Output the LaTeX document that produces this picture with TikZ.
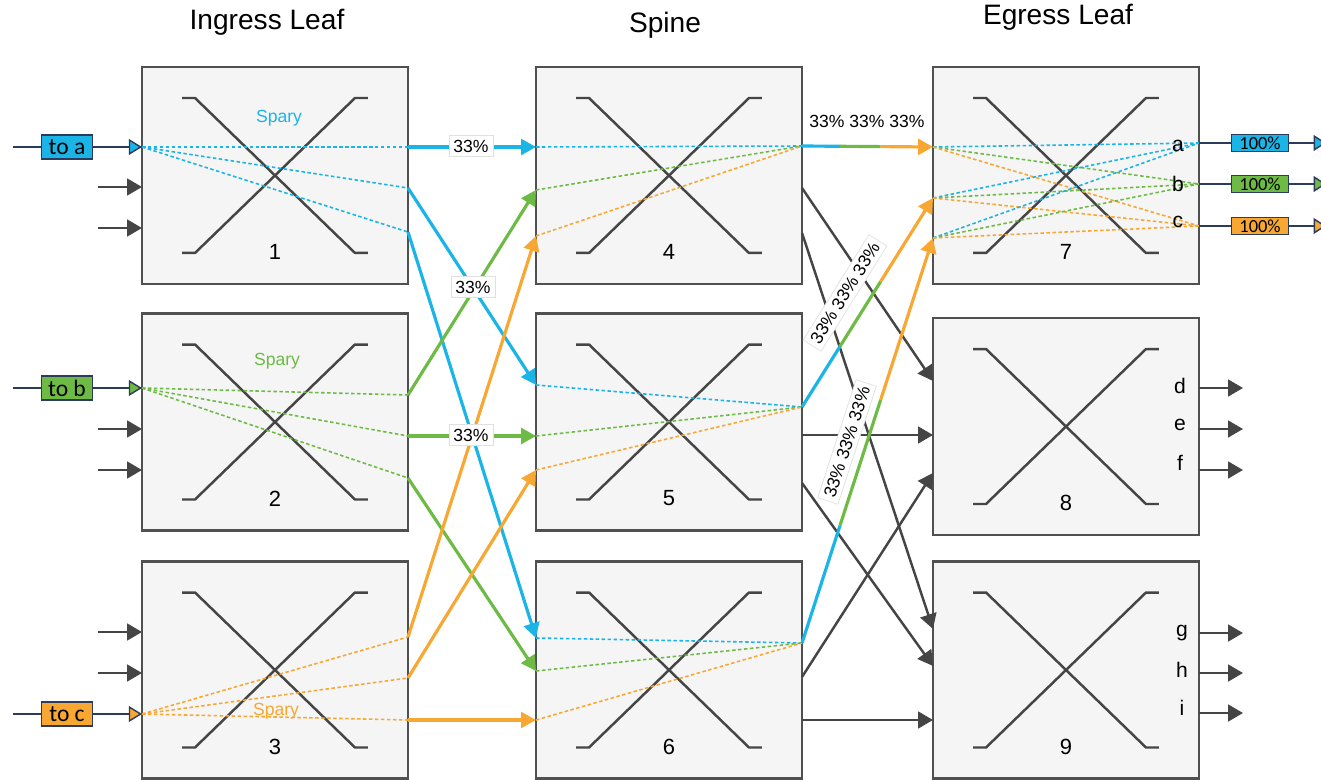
\documentclass[tikz,border=0pt]{standalone}
\usepackage{fontspec}
\setmainfont{Liberation Sans}
\newfontfamily\lblfont{Carlito}
\usetikzlibrary{arrows.meta,calc}
\definecolor{cy}{HTML}{1AB5E6}
\definecolor{gr}{HTML}{6DBB45}
\definecolor{og}{HTML}{F8A832}
\definecolor{dk}{HTML}{454545}
\definecolor{nv}{HTML}{2B3B5C}
\definecolor{bxfill}{HTML}{F5F5F5}
\definecolor{bxline}{HTML}{505050}
\newcommand\swx[2]{%
\draw[xline] ($(#1.north west)+(40,31)$) -- ++(13,0) -- ($(#1.south east)+(-53,-31)$) -- ++(13,0);
\draw[xline] ($(#1.south west)+(40,-31)$) -- ++(13,0) -- ($(#1.north east)+(-53,31)$) -- ++(13,0);
\node[numlbl] (n#1) at ($(#1.south)+(0,-32)$) {#2};}
\begin{document}
\begin{tikzpicture}[x=0.02cm,y=-0.02cm,
  swbox/.style={draw=bxline,line width=1.4pt,fill=bxfill,minimum width=5.32cm,minimum height=4.34cm,outer sep=0pt,inner sep=0pt},
  xline/.style={draw=dk,line width=1.4pt},
  numlbl/.style={font=\fontsize{12.5}{14}\selectfont,text=black},
  title/.style={font=\fontsize{16}{19}\selectfont,text=black},
  spray/.style={line width=0.9pt,dash pattern=on 2pt off 1.4pt},
  flow/.style={line width=1.8pt,-{Triangle[length=8.5pt,width=9pt]}},
  seg/.style={line width=1.8pt},
  gline/.style={draw=dk,line width=1.4pt,-{Triangle[length=8.5pt,width=9.5pt]}},
  pct/.style={font=\fontsize{10}{12}\selectfont,fill=white,draw=black!12,line width=0.4pt,inner sep=2.5pt},
  pcttxt/.style={font=\fontsize{10}{12}\selectfont},
  sprlbl/.style={font=\fontsize{10}{12}\selectfont},
  portlbl/.style={font=\fontsize{12}{14}\selectfont,text=black},
  tagbox/.style={draw=nv,line width=0.7pt,font=\lblfont\fontsize{13.4}{15}\selectfont,minimum width=29pt,minimum height=13.6pt,inner sep=1pt},
  outbox/.style={draw=nv,line width=0.7pt,font=\lblfont\fontsize{10.5}{12}\selectfont,minimum width=32.3pt,minimum height=10pt,inner sep=1pt},
  inline/.style={draw=nv,line width=0.8pt}
]
\clip (0,0) rectangle (1321,780);
\fill[white] (0,0) rectangle (1321,780);

% titles
\node[title] (t1) at (267,22) {Ingress Leaf};
\node[title] (t2) at (665,25) {Spine};
\node[title] (t3) at (1058,17) {Egress Leaf};

% boxes
\node[swbox] (b1) at (275,175.5) {};
\node[swbox] (b2) at (275,422) {};
\node[swbox] (b3) at (275,670) {};
\node[swbox] (b4) at (669,175.5) {};
\node[swbox] (b5) at (669,422) {};
\node[swbox] (b6) at (669,670) {};
\node[swbox] (b7) at (1066,175.5) {};
\node[swbox] (b8) at (1066,426.5) {};
\node[swbox] (b9) at (1066,670) {};
\swx{b1}{1}\swx{b2}{2}\swx{b3}{3}
\swx{b4}{4}\swx{b5}{5}\swx{b6}{6}
\swx{b7}{7}\swx{b8}{8}\swx{b9}{9}

% ports
\coordinate (in1) at (142,147); \coordinate (in2) at (142,388); \coordinate (in3) at (142,714);
\coordinate (o1a) at (408,147); \coordinate (o1b) at (408,188); \coordinate (o1c) at (408,232);
\coordinate (o2a) at (408,395); \coordinate (o2b) at (408,436); \coordinate (o2c) at (408,478);
\coordinate (o3a) at (408,637); \coordinate (o3b) at (408,678); \coordinate (o3c) at (408,720);
\coordinate (i4a) at (536,147); \coordinate (i4b) at (536,190); \coordinate (i4c) at (536,236);
\coordinate (i5a) at (536,385); \coordinate (i5b) at (536,436); \coordinate (i5c) at (536,470);
\coordinate (i6a) at (536,638); \coordinate (i6b) at (536,671); \coordinate (i6c) at (536,720);
\coordinate (r4) at (802,146); \coordinate (r5) at (802,407); \coordinate (r6) at (802,643);
\coordinate (l7a) at (933,147); \coordinate (l7b) at (933,198); \coordinate (l7c) at (933,238);
\coordinate (ea) at (1199,143); \coordinate (eb) at (1199,184); \coordinate (ec) at (1199,226);

% left inputs
\draw[inline,-{Triangle[length=7.5pt,width=9pt,fill=cy]}] (13,147) -- (in1);
\draw[inline,-{Triangle[length=7.5pt,width=9pt,fill=gr]}] (13,388) -- (in2);
\draw[inline,-{Triangle[length=7.5pt,width=9pt,fill=og]}] (13,714) -- (in3);
\node[tagbox,fill=cy] (ta) at (67,147) {to a};
\node[tagbox,fill=gr] (tb) at (67,388) {to b};
\node[tagbox,fill=og] (tc) at (67,714) {to c};
\coordinate (g1a) at (98,187); \coordinate (g1b) at (98,228);
\coordinate (g2a) at (98,429); \coordinate (g2b) at (98,470);
\coordinate (g3a) at (98,632); \coordinate (g3b) at (98,673);
\draw[gline] (g1a) -- (g1a -| b1.west);
\draw[gline] (g1b) -- (g1b -| b1.west);
\draw[gline] (g2a) -- (g2a -| b2.west);
\draw[gline] (g2b) -- (g2b -| b2.west);
\draw[gline] (g3a) -- (g3a -| b3.west);
\draw[gline] (g3b) -- (g3b -| b3.west);

% spray in ingress leaves
\node[sprlbl,text=cy] (sp1) at (279,118) {Spary};
\node[sprlbl,text=gr] (sp2) at (277,361) {Spary};
\node[sprlbl,text=og] (sp3) at (276,711) {Spary};
\foreach \t in {o1a,o1b,o1c} \draw[spray,cy] (in1) -- (\t);
\foreach \t in {o2a,o2b,o2c} \draw[spray,gr] (in2) -- (\t);
\foreach \t in {o3a,o3b,o3c} \draw[spray,og] (in3) -- (\t);

% ingress -> spine
\draw[flow,cy] (o1a) -- (i4a);
\draw[flow,cy] (o1b) -- (i5a);
\draw[flow,cy] (o1c) -- (i6a);
\draw[flow,gr] (o2a) -- (i4b);
\draw[flow,gr] (o2b) -- (i5b);
\draw[flow,gr] (o2c) -- (i6b);
\draw[flow,og] (o3a) -- (i4c);
\draw[flow,og] (o3b) -- (i5c);
\draw[flow,og] (o3c) -- (i6c);
\node[pct] (p1) at (471,146) {33\%};
\node[pct] (p2) at (473,287) {33\%};
\node[pct] (p3) at (471,435) {33\%};

% spray in spine
\draw[spray,cy] (i4a) -- (r4); \draw[spray,gr] (i4b) -- (r4); \draw[spray,og] (i4c) -- (r4);
\draw[spray,cy] (i5a) -- (r5); \draw[spray,gr] (i5b) -- (r5); \draw[spray,og] (i5c) -- (r5);
\draw[spray,cy] (i6a) -- (r6); \draw[spray,gr] (i6b) -- (r6); \draw[spray,og] (i6c) -- (r6);

% spine -> egress gray
\coordinate (s4a) at (802,188); \coordinate (s4b) at (802,233);
\coordinate (s5a) at (802,435); \coordinate (s5b) at (802,483);
\coordinate (s6a) at (802,677); \coordinate (s6b) at (802,720);
\coordinate (e8a) at (933,381); \coordinate (e8b) at (933,435); \coordinate (e8c) at (933,473);
\coordinate (e9a) at (933,629); \coordinate (e9b) at (933,666); \coordinate (e9c) at (933,720);
\draw[gline] (s4a) -- (e8a);
\draw[gline] (s4b) -- (e9a);
\draw[gline] (s5a) -- (e8b);
\draw[gline] (s5b) -- (e9b);
\draw[gline] (s6a) -- (e8c);
\draw[gline] (s6b) -- (e9c);

% spine -> egress leaf 7 (tricolor)
\foreach \s/\e in {r4/l7a,r5/l7b,r6/l7c}{
  \draw[seg,cy] (\s) -- ($(\s)!0.29!(\e)$);
  \draw[seg,gr] ($(\s)!0.29!(\e)$) -- ($(\s)!0.6!(\e)$);
  \draw[flow,og] ($(\s)!0.6!(\e)$) -- (\e);
}
\node[pcttxt] (q1) at (867,121) {33\% 33\% 33\%};
\node[pct,rotate=58] (q2) at (845,293) {33\% 33\% 33\%};
\node[pct,rotate=72] (q3) at (847,442) {33\% 33\% 33\%};

% spray in egress leaf 7
\foreach \s in {l7a,l7b,l7c}{
  \draw[spray,cy] (\s) -- (ea);
  \draw[spray,gr] (\s) -- (eb);
  \draw[spray,og] (\s) -- (ec);
}
\node[portlbl] (la) at (1178,146) {a};
\node[portlbl] (lb) at (1178,184) {b};
\node[portlbl] (lc) at (1178,222) {c};
\draw[inline,-{Triangle[length=7pt,width=9pt,fill=cy]}] (ea) -- (1326,143);
\draw[inline,-{Triangle[length=7pt,width=9pt,fill=gr]}] (eb) -- (1326,184);
\draw[inline,-{Triangle[length=7pt,width=9pt,fill=og]}] (ec) -- (1326,226);
\node[outbox,fill=cy] (oa) at (1260,143) {100\%};
\node[outbox,fill=gr] (ob) at (1260,184) {100\%};
\node[outbox,fill=og] (oc) at (1260,226) {100\%};

% egress 8 and 9 outputs
\node[portlbl] (ld) at (1180,386) {d};
\node[portlbl] (le) at (1180,425) {e};
\node[portlbl] (lf) at (1180,463) {f};
\node[portlbl] (lg) at (1182,633) {g};
\node[portlbl] (lh) at (1182,670) {h};
\node[portlbl] (li) at (1182,708) {i};
\coordinate (x8a) at (1243,388); \coordinate (x8b) at (1243,429); \coordinate (x8c) at (1243,470);
\coordinate (x9a) at (1243,633); \coordinate (x9b) at (1243,673); \coordinate (x9c) at (1243,713);
\draw[gline] (x8a -| b8.east) -- (x8a);
\draw[gline] (x8b -| b8.east) -- (x8b);
\draw[gline] (x8c -| b8.east) -- (x8c);
\draw[gline] (x9a -| b9.east) -- (x9a);
\draw[gline] (x9b -| b9.east) -- (x9b);
\draw[gline] (x9c -| b9.east) -- (x9c);
\end{tikzpicture}
\end{document}
